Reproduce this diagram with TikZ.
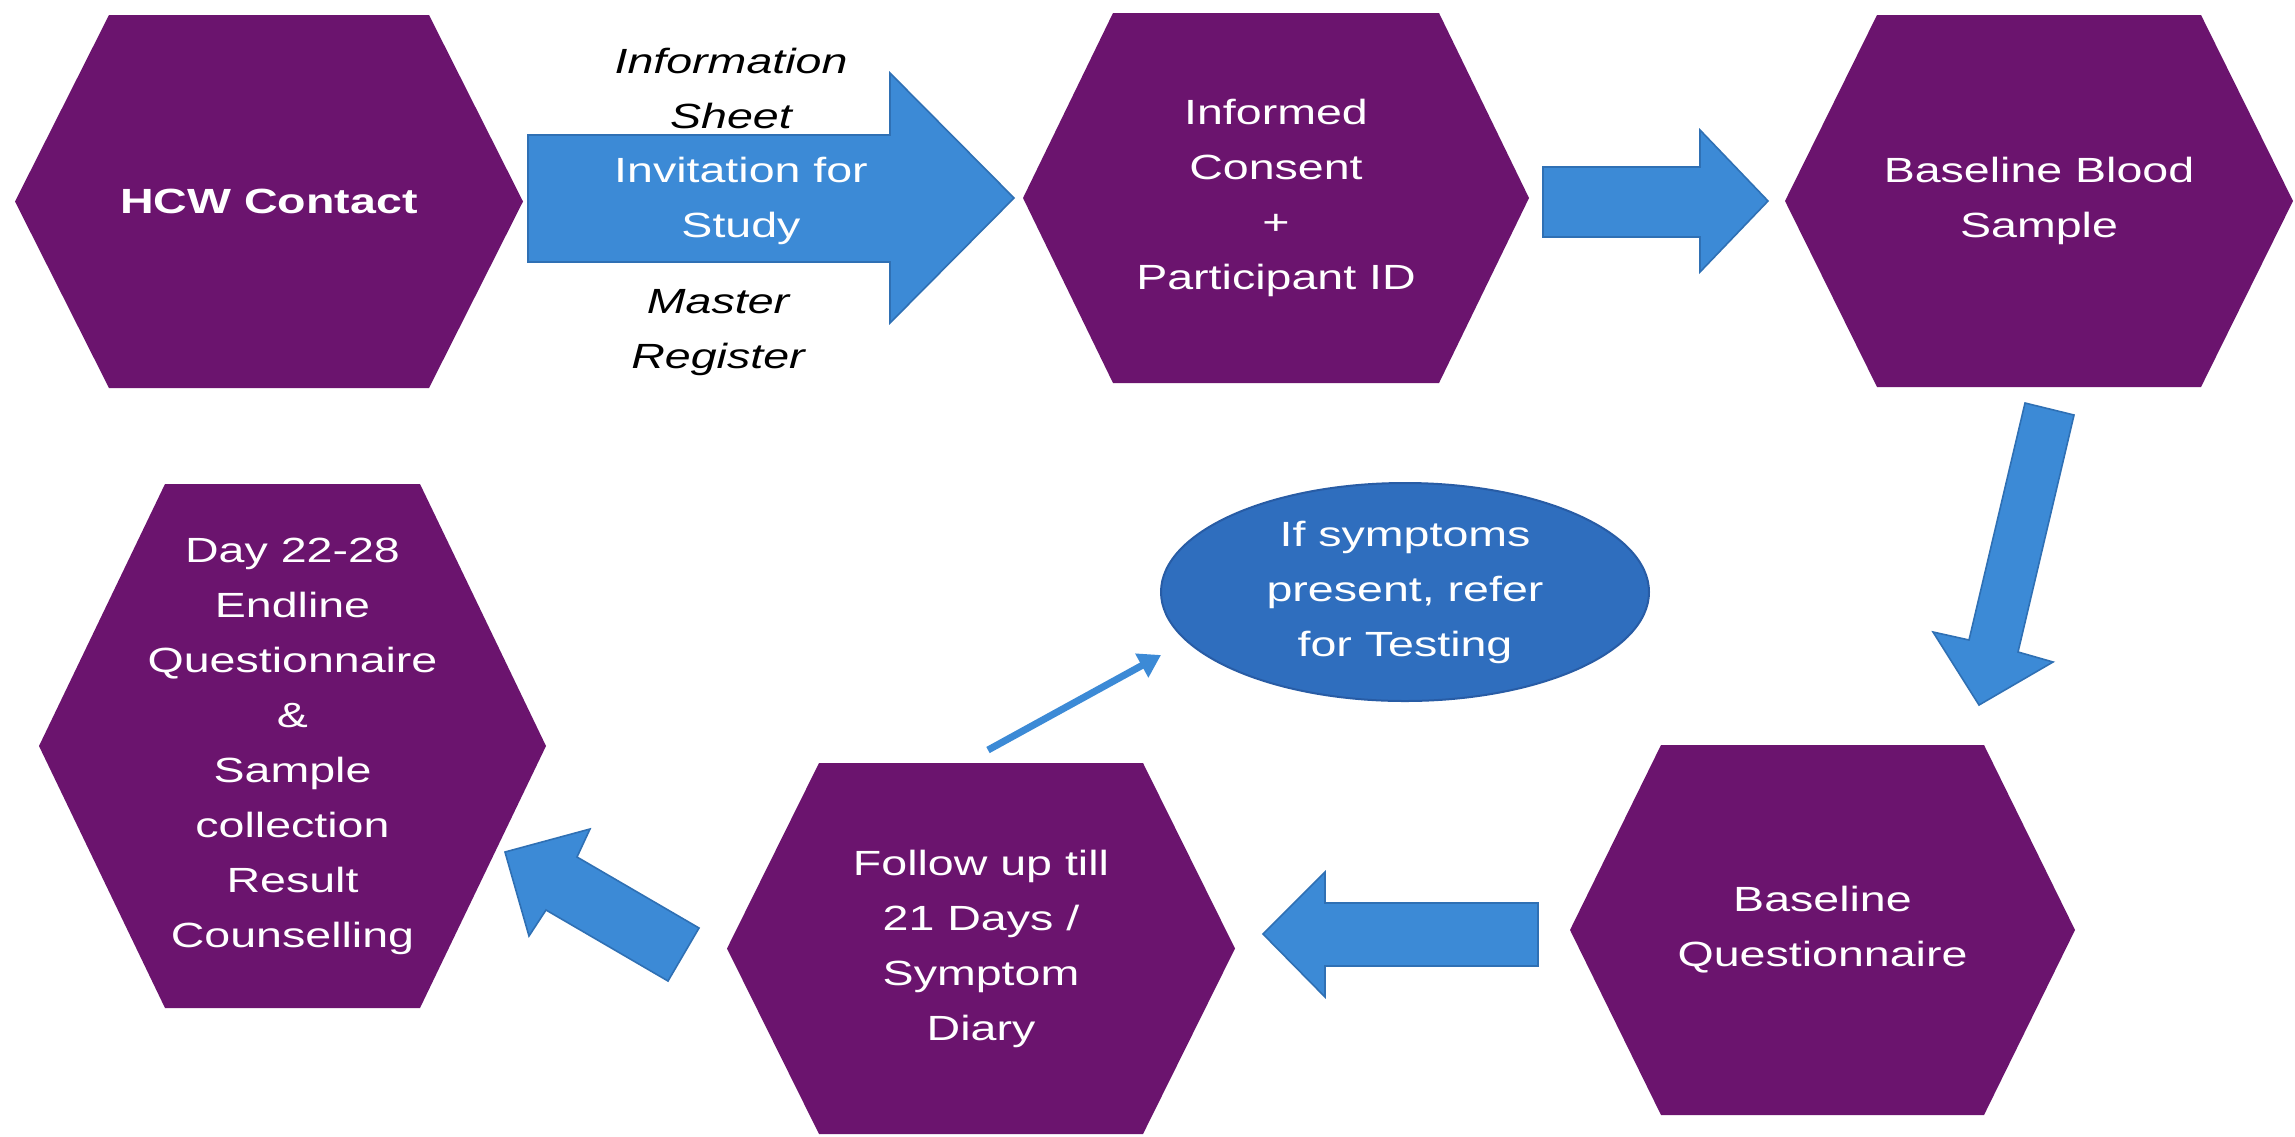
\documentclass[tikz,border=0pt]{standalone}
\usepackage{fontspec}
\setmainfont{Liberation Sans}[FakeStretch=1.33]
\usetikzlibrary{arrows.meta,shapes.geometric}
\definecolor{hexpurple}{RGB}{107,20,110}
\definecolor{arrblue}{RGB}{60,138,214}
\definecolor{arrline}{RGB}{47,112,180}
\definecolor{ellblue}{RGB}{47,110,190}
\definecolor{ellline}{RGB}{40,92,165}
\tikzset{
  hexfill/.style={fill=hexpurple},
  hextext/.style={text=white, align=center, inner sep=0pt, font=\fontsize{17.5}{27.5}\selectfont},
  blockarrow/.style={fill=arrblue, draw=arrline, line width=0.8pt, line join=miter},
  sidelabel/.style={text=black, align=center, inner sep=0pt, font=\fontsize{17.5}{27.5}\selectfont\itshape},
  thinarrow/.style={draw=arrblue, line width=3.5pt, -{Triangle[length=11pt,width=13pt]}},
  ellnode/.style={ellipse, fill=ellblue, draw=ellline, line width=1pt, minimum width=244pt, minimum height=109pt, inner sep=0pt, text=white, align=center, font=\fontsize{17.5}{27.5}\selectfont}
}
% #1 name, #2 cx, #3 cy, #4 half width, #5 half height, #6 indent, #7 text
\newcommand\hexnode[7]{%
  \fill[hexfill] ({#2-#4},{#3}) -- ({#2-#4+#6},{#3-#5}) -- ({#2+#4-#6},{#3-#5}) -- ({#2+#4},{#3}) -- ({#2+#4-#6},{#3+#5}) -- ({#2-#4+#6},{#3+#5}) -- cycle;
  \node[hextext] (#1) at (#2,#3) {#7};
}
\begin{document}
\begin{tikzpicture}[x=0.5pt,y=-0.5pt]
\fill[white] (0,0) rectangle (2295,1136);
\useasboundingbox (0,0) rectangle (2295,1136);

% hexagons
\hexnode{h1}{269}{201.5}{254}{186.5}{94}{\bfseries HCW Contact}
\hexnode{h2}{1276}{198}{253}{185}{90}{Informed\\Consent\\+\\Participant ID}
\hexnode{h3}{2039}{201}{254}{186}{92}{Baseline Blood\\Sample}
\hexnode{h4}{292.5}{746}{253.5}{262}{126}{Day 22-28\\Endline\\Questionnaire\\\&\\Sample\\collection\\Result\\Counselling}
\hexnode{h5}{981}{948.5}{254}{185.5}{92}{Follow up till\\21 Days /\\Symptom\\Diary}
\hexnode{h6}{1822.5}{930}{252.5}{185}{91}{Baseline\\Questionnaire}

% block arrows
\filldraw[blockarrow] (528,135) -- (890,135) -- (890,73) -- (1014,198) -- (890,323) -- (890,262) -- (528,262) -- cycle;
\node[hextext] (inv) at (741,201) {Invitation for\\Study};
\filldraw[blockarrow] (1543,167) -- (1700,167) -- (1700,130) -- (1768,201) -- (1700,272) -- (1700,237) -- (1543,237) -- cycle;
\filldraw[blockarrow] (2025,403) -- (2074,415) -- (2018,652) -- (2053,662) -- (1979,705) -- (1933,632) -- (1969,640) -- cycle;
\filldraw[blockarrow] (1538,903) -- (1325,903) -- (1325,872) -- (1263,934) -- (1325,997) -- (1325,966) -- (1538,966) -- cycle;
\filldraw[blockarrow] (699,928) -- (577,857) -- (590,829) -- (505,852) -- (529,936) -- (546,910) -- (668,981) -- cycle;

% side labels
\node[sidelabel] (info) at (731,88) {Information\\Sheet};
\node[sidelabel] (master) at (718,333) {Master\\Register};

% ellipse
\node[ellnode] (ell) at (1405,592) {If symptoms\\present, refer\\for Testing};

% thin arrow
\coordinate (ts) at (988,750);
\coordinate (tt) at (1161,655);
\draw[thinarrow] (ts) -- (tt);
\end{tikzpicture}
\end{document}
